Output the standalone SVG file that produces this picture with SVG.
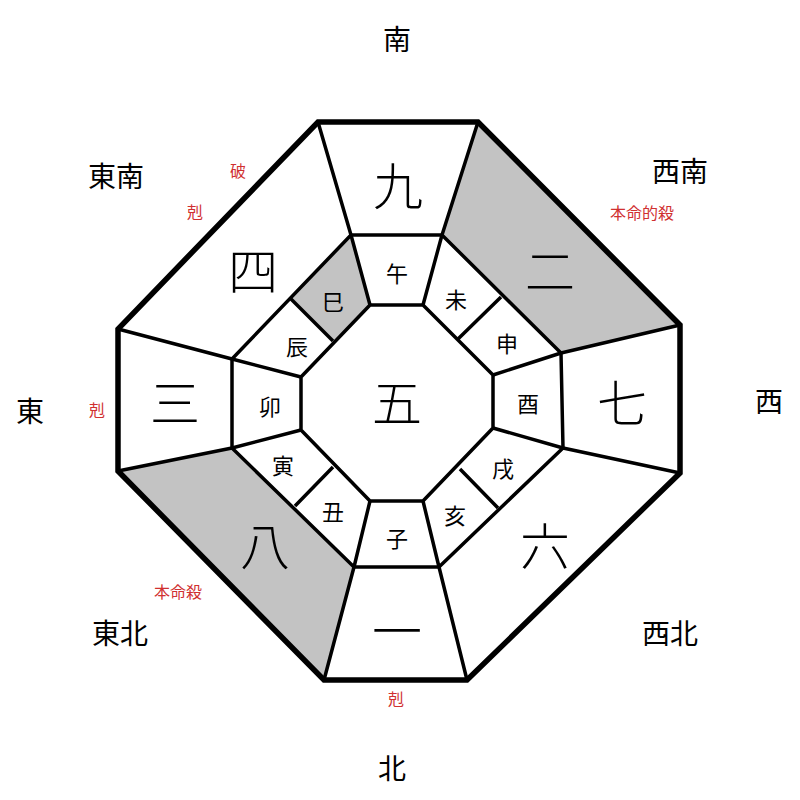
<svg xmlns="http://www.w3.org/2000/svg" width="800" height="800" viewBox="0 0 800 800">
<style>
.l{fill:none;stroke:#000;stroke-width:3.5;stroke-linejoin:round}
.o{fill:none;stroke:#000;stroke-width:5.5;stroke-linejoin:miter}
.g{fill:#c3c3c3}
text{font-family:"Noto Sans CJK JP","Noto Serif CJK JP",serif;text-anchor:middle;dominant-baseline:central}
.b{font-size:50px;font-family:"Noto Sans CJK JP",serif;font-weight:300}
.s{font-size:22px}
.d{font-size:28px}
.r{font-size:16px;fill:#d03030}
</style>
<rect width="800" height="800" fill="#fff"/>
<g id="shading">
<polygon class="g" points="478,122 680,325 561,353 442,235"/>
<polygon class="g" points="118,471 232,448 354,567 324,680"/>
<polygon class="g" points="291,299 351,235 370,305 333,341"/>
</g>
<g id="connectors">
<polygon class="l" points="351,235 442,235 561,353 563,448 439,567 354,567 232,448 232,359"/>
<polygon class="l" points="370,305 423,305 493,375 493,428 423,501 370,501 301,430 301,377"/>
<path class="l" d="M318,122L351,235M478,122L442,235M680,325L561,353M680,473L563,448M467,680L439,567M324,680L354,567M118,471L232,448M118,329L232,359"/>
<path class="l" d="M351,235L370,305M442,235L423,305M561,353L493,375M563,448L493,428M439,567L423,501M354,567L370,501M232,448L301,430M232,359L301,377"/>
<path class="l" d="M501,297L458,339M498,508L460,469M295,506L333,467M291,299L333,341"/>
<polygon class="o" points="318,122 478,122 680,325 680,473 467,680 324,680 118,471 118,329"/>
</g>
<g id="numbers">
<text class="b" x="398" y="183">九</text>
<text class="b" x="550" y="268">二</text>
<text class="b" x="622" y="400">七</text>
<text class="b" x="545" y="543">六</text>
<text class="b" x="397" y="628">一</text>
<text class="b" x="265" y="543">八</text>
<text class="b" x="175" y="400">三</text>
<text class="b" x="253" y="268">四</text>
<text class="b" x="397" y="400">五</text>
</g>
<g id="branches">
<text class="s" x="397" y="272">午</text>
<text class="s" x="456" y="298">未</text>
<text class="s" x="507" y="342">申</text>
<text class="s" x="528" y="402">酉</text>
<text class="s" x="503" y="467">戌</text>
<text class="s" x="455" y="514">亥</text>
<text class="s" x="397" y="537">子</text>
<text class="s" x="333" y="510">丑</text>
<text class="s" x="283" y="464">寅</text>
<text class="s" x="270" y="405">卯</text>
<text class="s" x="297" y="345">辰</text>
<text class="s" x="333" y="300">巳</text>
</g>
<g id="directions">
<text class="d" x="397" y="38">南</text>
<text class="d" x="116" y="175">東南</text>
<text class="d" x="680" y="170">西南</text>
<text class="d" x="30" y="410">東</text>
<text class="d" x="769" y="400">西</text>
<text class="d" x="120" y="632">東北</text>
<text class="d" x="670" y="632">西北</text>
<text class="d" x="392" y="767">北</text>
</g>
<g id="notes">
<text class="r" x="238" y="170">破</text>
<text class="r" x="195" y="211">剋</text>
<text class="r" x="642" y="212">本命的殺</text>
<text class="r" x="97" y="409">剋</text>
<text class="r" x="178" y="591">本命殺</text>
<text class="r" x="396" y="698">剋</text>
</g>
</svg>
